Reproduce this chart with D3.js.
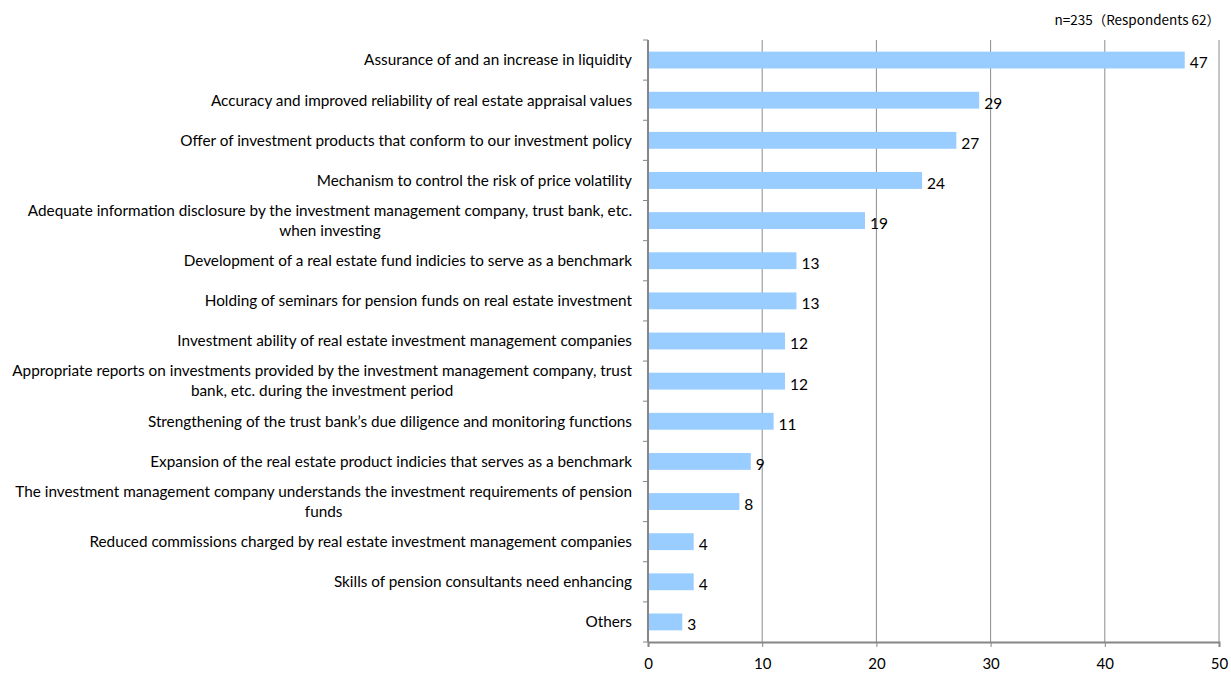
<!DOCTYPE html>
<html>
<head>
<meta charset="utf-8">
<script src="https://cdn.jsdelivr.net/npm/d3@7"></script>
<style>
  body { margin: 0; background: #fff; }
  svg { display: block; }
</style>
</head>
<body>
<div id="chart"></div>
<script>
// data
var categories = [
  ["Assurance of and an increase in liquidity"],
  ["Accuracy and improved reliability of real estate appraisal values"],
  ["Offer of investment products that conform to our investment policy"],
  ["Mechanism to control the risk of price volatility"],
  ["Adequate information disclosure by the investment management company, trust bank, etc.", "when investing"],
  ["Development of a real estate fund indicies to serve as a benchmark"],
  ["Holding of seminars for pension funds on real estate investment"],
  ["Investment ability of real estate investment management companies"],
  ["Appropriate reports on investments provided by the investment management company, trust", "bank, etc. during the investment period"],
  ["Strengthening of the trust bank\u2019s due diligence and monitoring functions"],
  ["Expansion of the real estate product indicies that serves as a benchmark"],
  ["The investment management company understands the investment requirements of pension", "funds"],
  ["Reduced commissions charged by real estate investment management companies"],
  ["Skills of pension consultants need enhancing"],
  ["Others"]
];
var values = [47, 29, 27, 24, 19, 13, 13, 12, 12, 11, 9, 8, 4, 4, 3];
var xTicks = [0, 10, 20, 30, 40, 50];
var note = "n=235\uFF08Respondents 62\uFF09";

var width = 1231, height = 673;
var margin = { top: 40, right: 12, bottom: 31, left: 648 };
var labelFont = "Lato, 'Open Sans', sans-serif";

var svg = d3.select("#chart")
    .append("svg")
    .attr("width", width)
    .attr("height", height);

var x = d3.scaleLinear()
    .domain([0, 50])
    .range([margin.left, width - margin.right]);

var y = d3.scaleBand()
    .domain(d3.range(categories.length))
    .range([margin.top, height - margin.bottom])
    .paddingInner(0.58)
    .paddingOuter(0.29);

var bandStep = y.step();

// grid lines
svg.append("g")
    .selectAll("line")
    .data(xTicks.slice(1))
    .enter()
    .append("line")
    .attr("x1", function (d) { return x(d); })
    .attr("x2", function (d) { return x(d); })
    .attr("y1", margin.top)
    .attr("y2", height - margin.bottom)
    .attr("stroke", "#8c8c8c")
    .attr("stroke-width", 1);

// bars
svg.append("g")
    .selectAll("rect")
    .data(values)
    .enter()
    .append("rect")
    .attr("x", x(0))
    .attr("y", function (d, i) { return y(i); })
    .attr("width", function (d) { return x(d) - x(0); })
    .attr("height", y.bandwidth())
    .attr("fill", "#99ccff");

// value labels
svg.append("g")
    .selectAll("text")
    .data(values)
    .enter()
    .append("text")
    .attr("x", function (d) { return x(d) + 5; })
    .attr("y", function (d, i) { return y(i) + y.bandwidth() / 2 + 3; })
    .attr("dy", "0.35em")
    .attr("font-family", labelFont)
    .attr("font-size", "15.5px")
    .attr("fill", "#000")
    .text(function (d) { return d; });

// left axis (no labels, ticks at category boundaries)
var yAxis = svg.append("g");
yAxis.append("line")
    .attr("x1", x(0)).attr("x2", x(0))
    .attr("y1", margin.top).attr("y2", height - margin.bottom)
    .attr("stroke", "#868686")
    .attr("stroke-width", 2);
yAxis.selectAll(".ytick")
    .data(d3.range(categories.length + 1))
    .enter()
    .append("line")
    .attr("class", "ytick")
    .attr("x1", x(0) - 5).attr("x2", x(0))
    .attr("y1", function (d) { return margin.top + d * bandStep; })
    .attr("y2", function (d) { return margin.top + d * bandStep; })
    .attr("stroke", "#868686")
    .attr("stroke-width", 1);

// bottom axis
var xAxis = d3.axisBottom(x)
    .tickValues(xTicks)
    .tickSize(5)
    .tickPadding(11);
var xg = svg.append("g")
    .attr("transform", "translate(0," + (height - margin.bottom) + ")")
    .call(xAxis);
xg.select(".domain").attr("stroke", "#868686").attr("stroke-width", 2);
xg.selectAll(".tick line").attr("stroke", "#868686");
xg.selectAll(".tick text")
    .attr("font-family", labelFont)
    .attr("font-size", "15px")
    .attr("fill", "#000");

// category labels
var labelRight = x(0) - 16;
var labels = svg.append("g")
    .selectAll("text")
    .data(categories)
    .enter()
    .append("text")
    .attr("font-family", labelFont)
    .attr("font-size", "15.3px")
    .attr("fill", "#000");

labels.each(function (lines, i) {
    var t = d3.select(this);
    var cy = y(i) + y.bandwidth() / 2;
    var lh = 20;
    lines.forEach(function (line, j) {
        t.append("tspan")
            .attr("y", cy + (j - (lines.length - 1) / 2) * lh)
            .attr("dy", "0.35em")
            .text(line);
    });
    // longest line ends at labelRight, others centred on it
    var widths = [];
    t.selectAll("tspan").each(function () { widths.push(this.getComputedTextLength()); });
    var maxW = d3.max(widths);
    var centre = labelRight - maxW / 2;
    t.selectAll("tspan")
        .attr("x", centre)
        .attr("text-anchor", "middle");
});

// note
svg.append("text")
    .attr("x", width - 11)
    .attr("y", 25)
    .attr("text-anchor", "end")
    .attr("font-family", "'Noto Sans CJK JP', sans-serif")
    .attr("font-size", "13.5px")
    .attr("fill", "#000")
    .text(note);
</script>
</body>
</html>
